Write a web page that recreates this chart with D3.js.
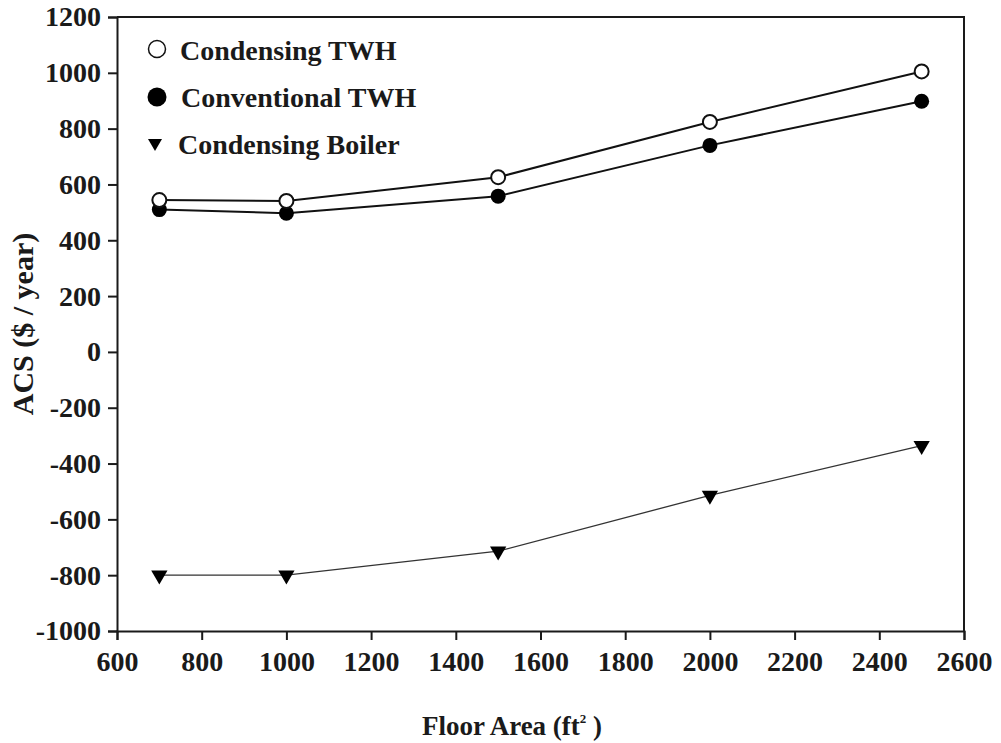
<!DOCTYPE html>
<html>
<head>
<meta charset="utf-8">
<script src="https://cdn.jsdelivr.net/npm/d3@7"></script>
<style>
  html, body { margin: 0; padding: 0; background: #fff; }
  svg text { font-family: "Liberation Serif", "Times New Roman", serif; font-weight: bold; fill: #1a1a1a; }
</style>
</head>
<body>
<div id="chart"></div>
<script>
// Data
const floorArea = [700, 1000, 1500, 2000, 2500];
const condensingTWH = [544, 541, 626, 824, 1005];
const conventionalTWH = [510, 497, 558, 740, 898];
const condensingBoiler = [-800, -800, -714, -514, -336];

const xTicks = [600, 800, 1000, 1200, 1400, 1600, 1800, 2000, 2200, 2400, 2600];
const yTicks = [1200, 1000, 800, 600, 400, 200, 0, -200, -400, -600, -800, -1000];

const legendLabels = ["Condensing TWH", "Conventional TWH", "Condensing Boiler"];

const W = 1001, H = 743;
const margin = { top: 17, right: 37, bottom: 112, left: 117 };
const width = W - margin.left - margin.right;
const height = H - margin.top - margin.bottom;

const svg = d3.select("#chart").append("svg")
    .attr("width", W)
    .attr("height", H);

const g = svg.append("g")
    .attr("transform", `translate(${margin.left},${margin.top})`);

// Scales
const x = d3.scaleLinear().domain([600, 2600]).range([0, width]);
const y = d3.scaleLinear().domain([-1000, 1200]).range([height, 0]);

// Frame (top and right sides)
g.append("path")
    .attr("d", `M0,0H${width}V${height}`)
    .attr("fill", "none")
    .attr("stroke", "#1a1a1a")
    .attr("stroke-width", 2);

// Axes
const xAxis = g.append("g")
    .attr("transform", `translate(0,${height})`)
    .call(d3.axisBottom(x).tickValues(xTicks).tickFormat(d3.format("d")).tickSizeOuter(0).tickSize(9).tickPadding(11));

const yAxis = g.append("g")
    .call(d3.axisLeft(y).tickValues(yTicks).tickFormat(d3.format("d")).tickSizeOuter(0).tickSize(9).tickPadding(7));

[xAxis, yAxis].forEach(ax => {
    ax.select(".domain").attr("stroke", "#1a1a1a").attr("stroke-width", 2);
    ax.selectAll(".tick line").attr("stroke", "#1a1a1a").attr("stroke-width", 2);
    ax.selectAll(".tick text")
        .attr("fill", "#1a1a1a")
        .style("font-family", '"Liberation Serif", "Times New Roman", serif')
        .style("font-weight", "bold")
        .style("font-size", "28px");
});
// D3 uses a minus sign; keep the plain hyphen as in the figure
yAxis.selectAll(".tick text").text(d => String(d));

// Axis titles
const xTitle = svg.append("text")
    .attr("x", 512)
    .attr("y", 735)
    .attr("text-anchor", "middle")
    .style("font-size", "27px");
xTitle.append("tspan").text("Floor Area (ft");
xTitle.append("tspan").attr("dy", -12).style("font-size", "13px").text("2");
xTitle.append("tspan").attr("dy", 12).text(" )");

svg.append("text")
    .attr("transform", `translate(33,${margin.top + height / 2}) rotate(-90)`)
    .attr("text-anchor", "middle")
    .style("font-size", "30px")
    .text("ACS ($ / year)");

// Lines
const line = d3.line()
    .x((d, i) => x(floorArea[i]))
    .y(d => y(d));

g.append("path")
    .datum(condensingBoiler)
    .attr("d", line)
    .attr("fill", "none")
    .attr("stroke", "#333")
    .attr("stroke-width", 1.3);

g.append("path")
    .datum(conventionalTWH)
    .attr("d", line)
    .attr("fill", "none")
    .attr("stroke", "#111")
    .attr("stroke-width", 2);

g.append("path")
    .datum(condensingTWH)
    .attr("d", line)
    .attr("fill", "none")
    .attr("stroke", "#111")
    .attr("stroke-width", 2);

// Markers
const tri = d3.symbol().type(d3.symbolTriangle).size(115);
g.selectAll(".boiler")
    .data(condensingBoiler)
    .join("path")
    .attr("class", "boiler")
    .attr("d", tri)
    .attr("transform", (d, i) => `translate(${x(floorArea[i])},${y(d)}) rotate(180)`)
    .attr("fill", "#000");

g.selectAll(".conv")
    .data(conventionalTWH)
    .join("circle")
    .attr("class", "conv")
    .attr("cx", (d, i) => x(floorArea[i]))
    .attr("cy", d => y(d))
    .attr("r", 7.5)
    .attr("fill", "#000");

g.selectAll(".cond")
    .data(condensingTWH)
    .join("circle")
    .attr("class", "cond")
    .attr("cx", (d, i) => x(floorArea[i]))
    .attr("cy", d => y(d))
    .attr("r", 7)
    .attr("fill", "#fff")
    .attr("stroke", "#111")
    .attr("stroke-width", 2);

// Legend
const legend = svg.append("g");

legend.append("circle")
    .attr("cx", 157).attr("cy", 49).attr("r", 8.5)
    .attr("fill", "#fff").attr("stroke", "#111").attr("stroke-width", 1.5);
legend.append("text").attr("x", 180).attr("y", 60).style("font-size", "28px").text(legendLabels[0]);

legend.append("circle")
    .attr("cx", 157).attr("cy", 97).attr("r", 9.5)
    .attr("fill", "#000");
legend.append("text").attr("x", 181).attr("y", 107).style("font-size", "28px").text(legendLabels[1]);

legend.append("path")
    .attr("d", d3.symbol().type(d3.symbolTriangle).size(85))
    .attr("transform", "translate(155,143) rotate(180)")
    .attr("fill", "#000");
legend.append("text").attr("x", 178).attr("y", 154).style("font-size", "28px").text(legendLabels[2]);
</script>
</body>
</html>
